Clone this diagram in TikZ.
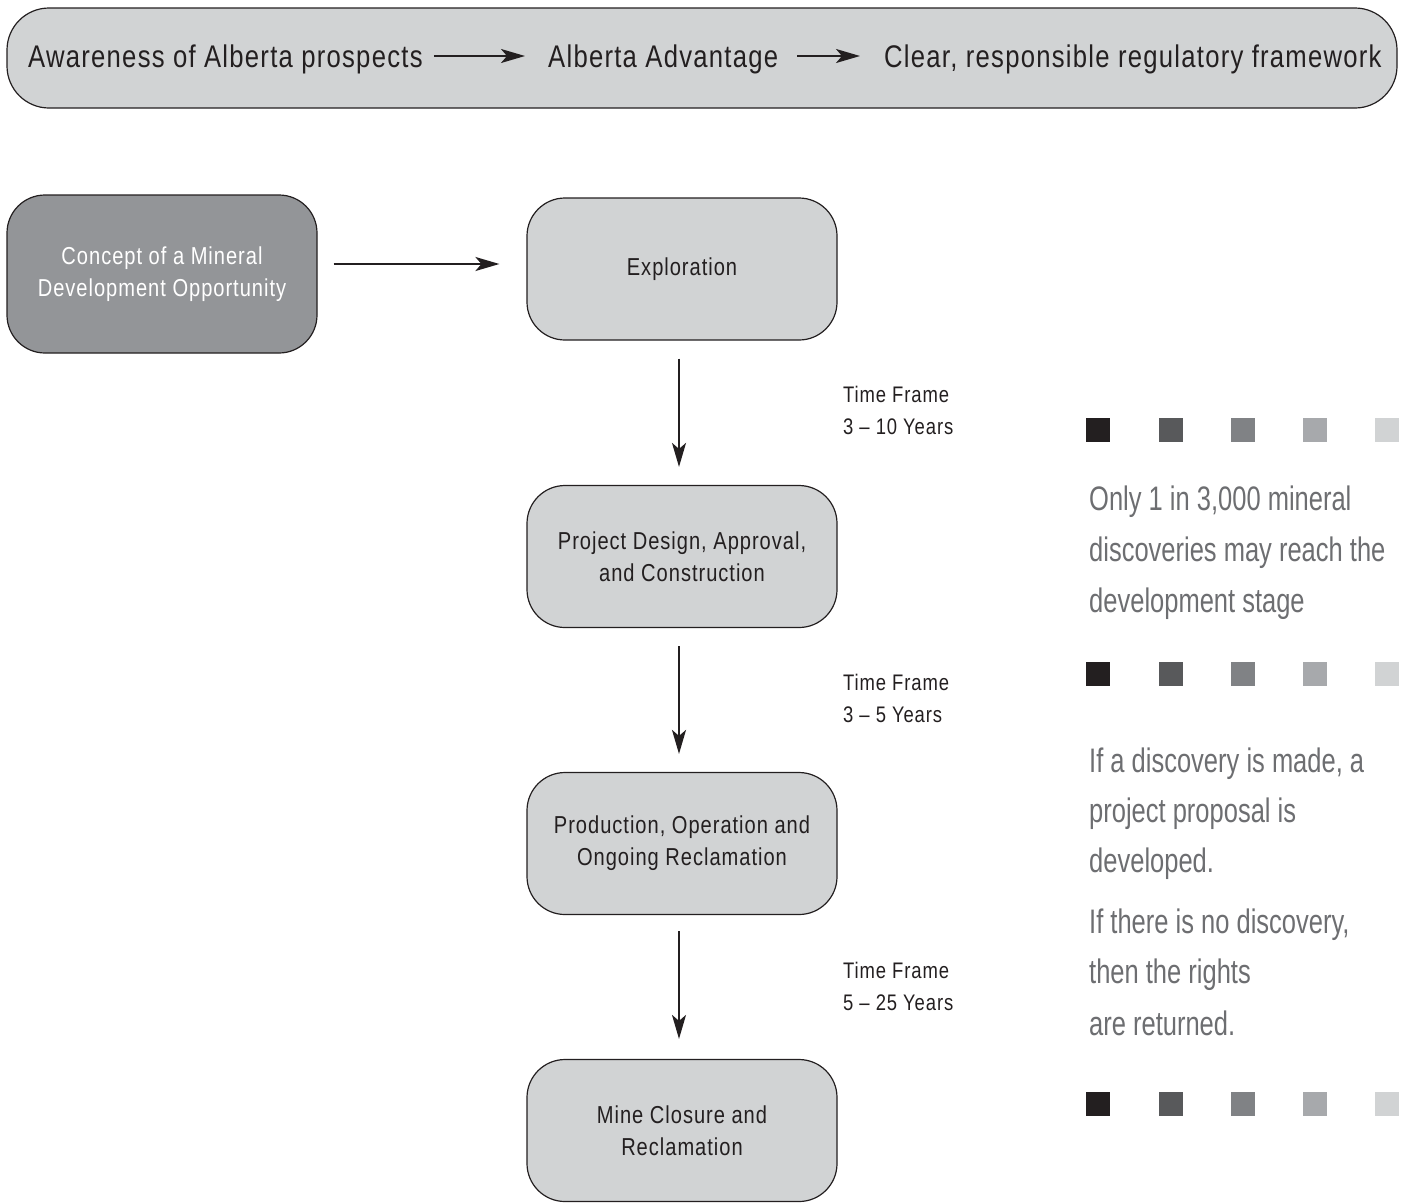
\documentclass[tikz,border=0pt]{standalone}
\usepackage{fontspec}
\setmainfont{Liberation Sans}[FakeStretch=0.82, LetterSpace=4]
\newfontfamily\notefont{Liberation Sans}[FakeStretch=0.75]
\usetikzlibrary{arrows.meta}
\definecolor{ink}{HTML}{231F20}
\definecolor{boxgrey}{HTML}{D1D3D4}
\definecolor{conceptgrey}{HTML}{939598}
\definecolor{notegrey}{HTML}{6D6E71}
\definecolor{shadeA}{HTML}{231F20}
\definecolor{shadeB}{HTML}{58595B}
\definecolor{shadeC}{HTML}{808285}
\definecolor{shadeD}{HTML}{A7A9AC}
\definecolor{shadeE}{HTML}{D1D3D4}
\def\squarerow#1{%
  \fill[shadeA] (1086,#1) rectangle ++(24,24);
  \fill[shadeB] (1159,#1) rectangle ++(24,24);
  \fill[shadeC] (1231,#1) rectangle ++(24,24);
  \fill[shadeD] (1303,#1) rectangle ++(24,24);
  \fill[shadeE] (1375,#1) rectangle ++(24,24);}

\begin{document}
\begin{tikzpicture}[x=1pt, y=-1pt,
    stage/.style={draw=ink, line width=1.2pt, fill=boxgrey, rounded corners=38pt,
      minimum width=310pt, minimum height=142pt, align=center, text=ink,
      font=\fontsize{24.5}{32}\selectfont},
    flow/.style={-{Stealth[length=24pt,width=14pt,inset=6pt]}, line width=2pt, draw=ink},
    bannertext/.style={anchor=base west, inner sep=0pt, text=ink, text height=22pt,
      text depth=0pt, font=\fontsize{31.3}{38}\selectfont},
    timetext/.style={anchor=base west, inner sep=0pt, text=ink, font=\fontsize{22.5}{32}\selectfont},
    notetext/.style={anchor=base west, inner sep=0pt, text=notegrey, font=\notefont\fontsize{34}{50}\selectfont}]
    %%%%% START %%%%%
    \useasboundingbox (0,0) rectangle (1404,1203);

    % banner
    \draw[ink, line width=1.2pt, fill=boxgrey, rounded corners=42pt] (7,8) rectangle (1397,108);
    \node[bannertext] (aware) at (28,67) {Awareness of Alberta prospects};
    \node[bannertext] (advantage) at (548,67) {Alberta Advantage};
    \node[bannertext] (framework) at (884,67) {Clear, responsible regulatory framework};
    \draw[flow, shorten <=11pt, shorten >=23pt] (aware.east) -- (advantage.west);
    \draw[flow, shorten <=19pt, shorten >=24pt] (advantage.east) -- (framework.west);

    % stages
    \node[stage, fill=conceptgrey, text=white, minimum height=158pt] (concept) at (162,274)
      {Concept of a Mineral\\Development Opportunity};
    \node[stage] (explore) at (682,269) {Exploration};
    \node[stage] (design) at (682,556.5) {Project Design, Approval,\\and Construction};
    \node[stage] (produce) at (682,843.5) {Production, Operation and\\Ongoing Reclamation};
    \node[stage] (closure) at (682,1130.5) {Mine Closure and\\Reclamation};

    \draw[flow, shorten <=16pt, shorten >=27pt] ([yshift=5pt]explore.west -| concept.east) -- ([yshift=5pt]explore.west);
    \draw[flow, shorten <=18pt, shorten >=18pt] ([xshift=-3pt]explore.south) -- ([xshift=-3pt]design.north);
    \draw[flow, shorten <=18pt, shorten >=18pt] ([xshift=-3pt]design.south) -- ([xshift=-3pt]produce.north);
    \draw[flow, shorten <=16pt, shorten >=20pt] ([xshift=-3pt]produce.south) -- ([xshift=-3pt]closure.north);

    % time frames
    \node[timetext] (tfa) at (843,402) {Time Frame};
    \node[timetext] (tfayears) at (843,434) {3 -- 10 Years};
    \node[timetext] (tfb) at (843,690) {Time Frame};
    \node[timetext] (tfbyears) at (843,722) {3 -- 5 Years};
    \node[timetext] (tfc) at (843,978) {Time Frame};
    \node[timetext] (tfcyears) at (843,1010) {5 -- 25 Years};

    % notes
    \squarerow{418}
    \node[notetext] (odds1) at (1089,510) {Only 1 in 3,000 mineral};
    \node[notetext] (odds2) at (1089,561) {discoveries may reach the};
    \node[notetext] (odds3) at (1089,612) {development stage};
    \squarerow{662}
    \node[notetext] (found1) at (1089,772) {If a discovery is made, a};
    \node[notetext] (found2) at (1089,822) {project proposal is};
    \node[notetext] (found3) at (1089,872) {developed.};
    \node[notetext] (none1) at (1089,933) {If there is no discovery,};
    \node[notetext] (none2) at (1089,983) {then the rights};
    \node[notetext] (none3) at (1089,1035) {are returned.};
    \squarerow{1092}

    %%%%% END %%%%%
\end{tikzpicture}
\end{document}
